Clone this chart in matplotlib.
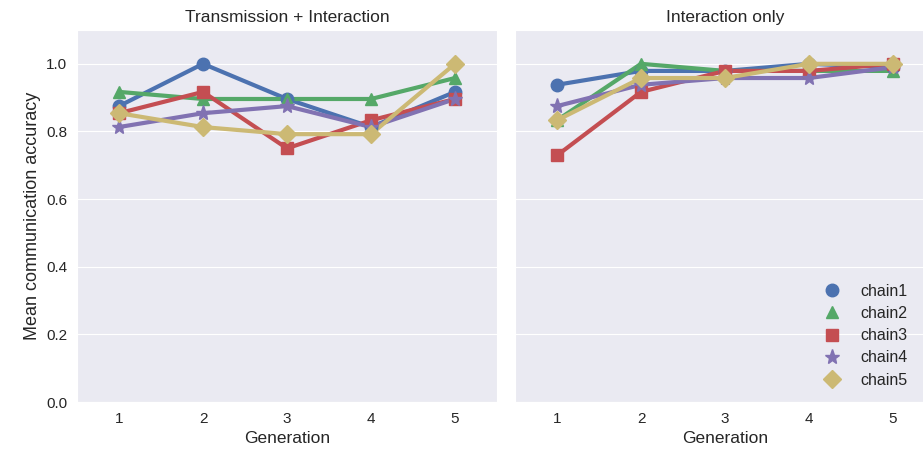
import numpy as np
import matplotlib
matplotlib.use('Agg')
import matplotlib.pyplot as plt
import seaborn as sns

sns.set_style('darkgrid')
plt.rcParams['font.family'] = ['Liberation Sans', 'DejaVu Sans']

generations = [1, 2, 3, 4, 5]
chains = ['chain1', 'chain2', 'chain3', 'chain4', 'chain5']
colors = ['#4C72B0', '#55A868', '#C44E52', '#8172B2', '#CCB974']
markers = ['o', '^', 's', '*', 'D']
msizes = [9, 9, 9, 11, 9]

# Transmission + Interaction
ti_chain1 = [0.875, 1.0, 0.896, 0.813, 0.917]
ti_chain2 = [0.917, 0.896, 0.896, 0.896, 0.958]
ti_chain3 = [0.854, 0.917, 0.75, 0.833, 0.896]
ti_chain4 = [0.813, 0.854, 0.875, 0.813, 0.896]
ti_chain5 = [0.854, 0.813, 0.792, 0.792, 1.0]

# Interaction only
io_chain1 = [0.938, 0.979, 0.979, 1.0, 0.99]
io_chain2 = [0.833, 1.0, 0.979, 0.979, 0.979]
io_chain3 = [0.729, 0.917, 0.979, 0.979, 1.0]
io_chain4 = [0.875, 0.938, 0.958, 0.958, 0.99]
io_chain5 = [0.833, 0.958, 0.958, 1.0, 1.0]

panels = [
    ('Transmission + Interaction', [ti_chain1, ti_chain2, ti_chain3, ti_chain4, ti_chain5]),
    ('Interaction only', [io_chain1, io_chain2, io_chain3, io_chain4, io_chain5]),
]

W, H = 923, 451
fig = plt.figure(figsize=(W / 100, H / 100), dpi=100)
ax1 = fig.add_axes([77 / W, 1 - 402 / H, 420 / W, 372 / H])
ax2 = fig.add_axes([515 / W, 1 - 402 / H, 420 / W, 372 / H], sharey=ax1)

for ax, (title, series) in zip([ax1, ax2], panels):
    for vals, name, c, m, ms in zip(series, chains, colors, markers, msizes):
        ax.plot(generations, vals, color=c, lw=3, zorder=2)
        ax.plot(generations, vals, color=c, marker=m, ms=ms, ls='none',
                label=name, zorder=3)
    ax.set_title(title, fontsize=12.5)
    ax.set_xlim(0.5, 5.5)
    ax.set_xticks(generations)
    ax.set_xlabel('Generation', fontsize=12.5)
    ax.tick_params(labelsize=11)
    ax.xaxis.grid(False)

ax1.set_ylim(0, 1.1)
ax1.set_yticks(np.arange(0, 1.01, 0.2))
ax1.set_ylabel('Mean communication accuracy', fontsize=13)
plt.setp(ax2.get_yticklabels(), visible=False)

ax2.legend(loc='lower right', bbox_to_anchor=(0.97, 0.0), frameon=False,
           fontsize=11.5, handletextpad=0.8, labelspacing=0.45)

fig.savefig('out.png', dpi=100)
